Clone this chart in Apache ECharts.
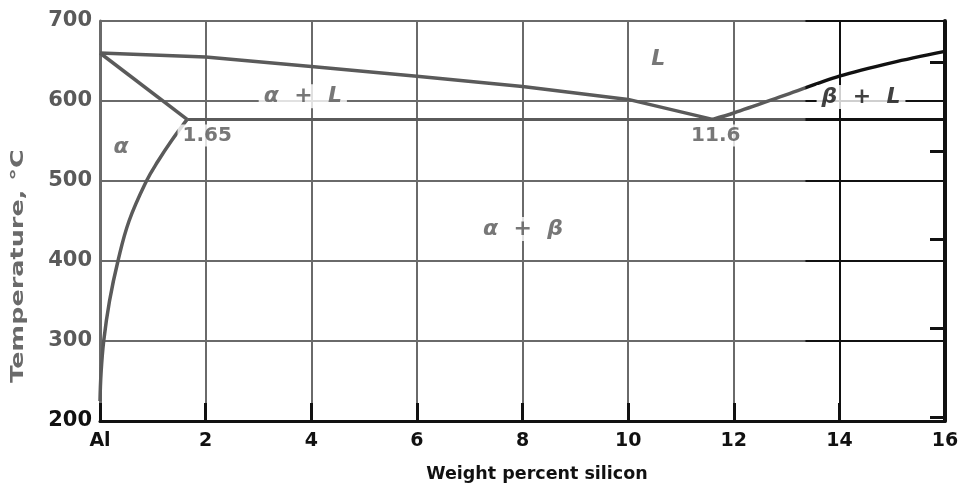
<!DOCTYPE html>
<html>
<head>
<meta charset="utf-8">
<script src="https://cdn.jsdelivr.net/npm/echarts@6/dist/echarts.min.js"></script>
<style>
html,body{margin:0;padding:0;background:#fff;}
#chart{width:968px;height:488px;}
</style>
</head>
<body>
<div id="chart"></div>
<script>
// ---- data ----
const xTicks = [0, 2, 4, 6, 8, 10, 12, 14, 16];
const xTickLabels = ['Al', '2', '4', '6', '8', '10', '12', '14', '16'];
const yTicks = [200, 300, 400, 500, 600, 700];

const liquidusX = [0, 2, 4, 6, 8, 10, 11.6];
const liquidusT = [660, 655, 643, 631, 618, 602, 577];

const solidusX = [0, 1.65];
const solidusT = [660, 577];

const solvusX = [1.65, 1.35, 1.1, 0.88, 0.55, 0.34, 0.18, 0.07, 0.02, 0];
const solvusT = [577, 550, 525, 500, 450, 400, 350, 300, 260, 225];

const siLiquidusX = [11.6, 12, 13, 14, 15, 16];
const siLiquidusT = [577, 585, 608, 631, 648, 662];

const eutecticX = [1.65, 16];
const eutecticT = [577, 577];

// Fahrenheit ticks on right edge (400,600,800,1000,1200 °F in °C)
const rightTickT = [204.4, 315.6, 426.7, 537.8, 648.9];

const labelText = ['α', '1.65', 'α  +  L', 'L', '11.6', 'β  +  L', 'α  +  β'];
const labelX    = [0.40, 2.03, 3.84, 10.57, 11.66, 14.41, 8.01];
const labelT    = [542, 557, 606, 652, 557, 605, 440];

// ---- chart ----
const chart = echarts.init(document.getElementById('chart'));
const GRAY = '#5a5a5a';
const LGRAY = '#6a6a6a';
const BLACK = '#111';
function mix(c) {
  return new echarts.graphic.LinearGradient(0, 0, 968, 0, [
    {offset: 0, color: c}, {offset: 0.831, color: c},
    {offset: 0.833, color: BLACK}, {offset: 1, color: BLACK}
  ], true);
}
const zip = (xs, ys) => xs.map((x, i) => [x, ys[i]]);

const italicSet = new Set(['α', 'α  +  L', 'L', 'β  +  L', 'α  +  β']);
const labelData = labelText.map((t, i) => {
  const italic = italicSet.has(t);
  const isRight = labelX[i] > 13.5;
  return {
    value: [labelX[i], labelT[i]],
    name: t,
    label: {
      show: true,
      position: 'inside',
      formatter: '{b}',
      fontFamily: 'DejaVu Sans',
      fontStyle: italic ? 'italic' : 'normal',
      fontWeight: 'bold',
      fontSize: italic ? 22 : 20,
      color: isRight ? BLACK : '#555',
      backgroundColor: (t === 'α' || t === 'L') ? 'transparent' : '#fff',
      padding: [1, 5]
    }
  };
});

const lineStyleBase = (w) => ({width: w, color: mix(GRAY)});

chart.setOption({
  animation: false,
  backgroundColor: '#fff',
  grid: {left: 100, right: 23, top: 21, bottom: 62, containLabel: false},
  xAxis: {
    type: 'value', min: 0, max: 16, interval: 2,
    name: 'Weight percent silicon',
    nameLocation: 'middle', nameGap: 44,
    nameTextStyle: {fontFamily: 'DejaVu Sans', fontWeight: 'bold', fontSize: 17.5, color: BLACK, padding: [0, 0, 0, 29]},
    axisLine: {show: true, onZero: false, lineStyle: {color: BLACK, width: 3}},
    axisTick: {show: true, inside: true, length: 18, lineStyle: {color: BLACK, width: 3}},
    axisLabel: {
      fontFamily: 'DejaVu Sans', fontWeight: 'bold', fontSize: 19, color: BLACK, margin: 11,
      formatter: v => xTickLabels[xTicks.indexOf(v)]
    },
    splitLine: {show: true, lineStyle: {color: mix(LGRAY), width: 2}}
  },
  yAxis: [{
    type: 'value', min: 200, max: 700, interval: 100,
    axisLine: {show: true, lineStyle: {color: LGRAY, width: 3}},
    axisTick: {show: false},
    axisLabel: {
      fontFamily: 'DejaVu Sans', fontWeight: 'bold', fontSize: 21, margin: 8,
      color: (v) => (v == 200 ? BLACK : '#5a5a5a')
    },
    splitLine: {show: true, lineStyle: {color: mix(LGRAY), width: 2}}
  }, {
    type: 'value', min: 200, max: 700, interval: 100, position: 'right',
    axisLine: {show: true, lineStyle: {color: BLACK, width: 4}},
    axisTick: {show: true, inside: true, length: 15, customValues: rightTickT, lineStyle: {color: BLACK, width: 3}},
    axisLabel: {show: false},
    splitLine: {show: false}
  }],
  graphic: [{
    type: 'text',
    x: 19, y: 266,
    rotation: Math.PI / 2,
    scaleX: 1.5,
    style: {
      text: 'Temperature, °C',
      font: 'bold 17px "DejaVu Sans"',
      fill: '#6a6a6a',
      align: 'center',
      verticalAlign: 'middle'
    }
  }],
  series: [
    {type: 'line', data: zip(liquidusX, liquidusT), showSymbol: false, lineStyle: lineStyleBase(3.5), z: 3},
    {type: 'line', data: zip(solidusX, solidusT), showSymbol: false, lineStyle: lineStyleBase(3.5), z: 3},
    {type: 'line', data: zip(solvusX, solvusT), showSymbol: false, smooth: 0.4, lineStyle: lineStyleBase(3.5), z: 3},
    {type: 'line', data: zip(siLiquidusX, siLiquidusT), showSymbol: false, smooth: 0.3, lineStyle: lineStyleBase(3.5), z: 3},
    {type: 'line', data: zip(eutecticX, eutecticT), showSymbol: false, lineStyle: lineStyleBase(3), z: 3},
    {type: 'scatter', data: labelData, symbolSize: 0, z: 5, silent: true}
  ]
});
</script>
</body>
</html>
